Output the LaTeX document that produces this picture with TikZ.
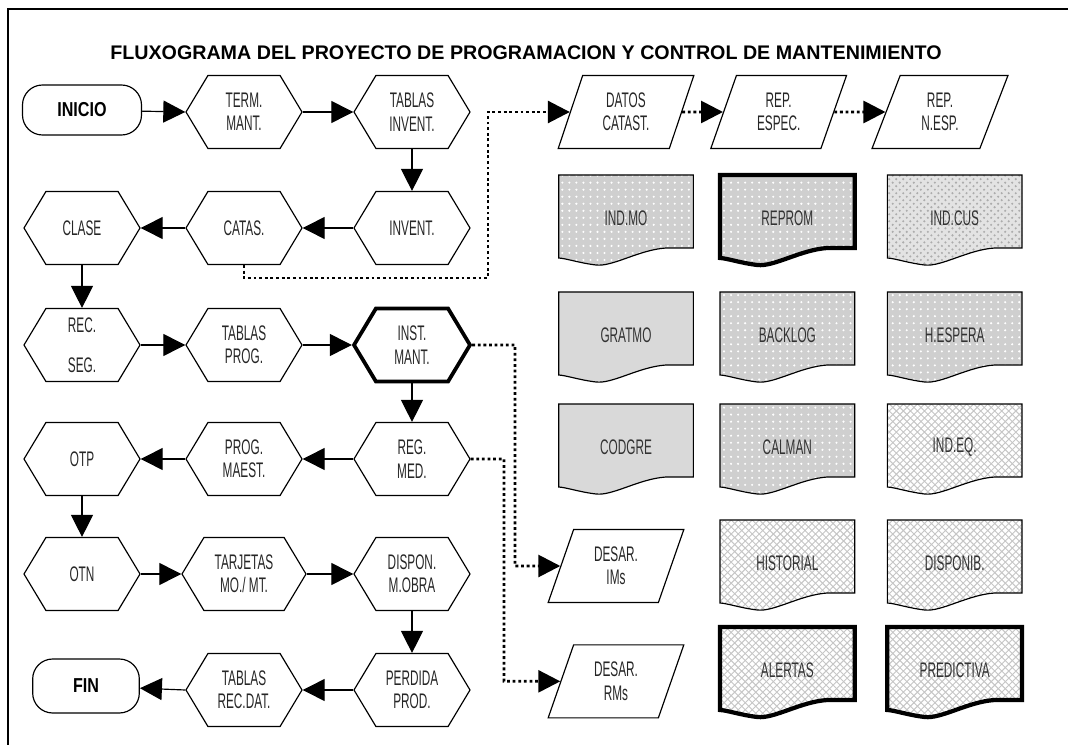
\documentclass[tikz,border=0pt]{standalone}
\usepackage{fontspec}
\setmainfont{Liberation Sans}
\newfontfamily\narrowfont[FakeStretch=0.56]{Liberation Sans}
\newfontfamily\boldnarrow[FakeStretch=0.8]{Liberation Sans}
\usepackage{tikz}
\usetikzlibrary{arrows.meta, positioning, shapes.geometric, shapes.symbols, patterns}

\tikzset{
  hexbox/.style={draw, signal, signal to=west and east, signal pointer angle=118,
    minimum width=1.74cm, minimum height=1.095cm, inner sep=0pt, align=center,
    line width=0.5pt, text=black!85, font=\narrowfont\fontsize{9}{10}\selectfont},
  termbox/.style={draw, rectangle, rounded corners=0.3cm, minimum width=1.785cm,
    minimum height=0.75cm, line width=0.5pt,
    font=\boldnarrow\bfseries\fontsize{8.6}{10}\selectfont},
  databox/.style={draw, trapezium, trapezium left angle=71, trapezium right angle=109,
    trapezium stretches=true, minimum width=2.04cm, minimum height=1.095cm,
    inner sep=0pt, align=center, line width=0.5pt, text=black!85,
    font=\narrowfont\fontsize{9}{10}\selectfont},
  doctext/.style={inner sep=1pt, text=black!80, font=\narrowfont\fontsize{9}{10}\selectfont},
  flowarrow/.style={line width=0.5pt, -{Triangle[length=0.33cm,width=0.33cm]}},
  dotarrow/.style={line width=1.2pt, dash pattern=on 1.2pt off 1.2pt,
    -{Triangle[length=0.33cm,width=0.33cm]}},
  docdots/.style={line width=0.5pt, preaction={fill=gray!38}, pattern=dots, pattern color=white},
  docchecks/.style={line width=0.5pt, preaction={fill=gray!22}, pattern=crosshatch dots, pattern color=gray!65},
  docsolid/.style={line width=0.5pt, fill=gray!30},
  docweave/.style={line width=0.5pt, preaction={fill=white}, pattern=crosshatch, pattern color=gray!45},
  docthick/.style={line width=1.8pt}
}

% report sheet: name, centre x, top y, look, text
\newcommand{\repdoc}[5]{%
  \begin{scope}[shift={(#2,#3)}]
    \draw[#4] (-1.01,0) -- (1.01,0) -- (1.01,-1.095) -- (0.6,-1.095)
      .. controls (0.2,-1.12) and (-0.2,-1.38) .. (-0.45,-1.35)
      .. controls (-0.7,-1.32) and (-0.9,-1.25) .. (-1.01,-1.245) -- cycle;
  \end{scope}
  \node[doctext] (#1) at (#2,#3-0.645) {#5};}

\begin{document}
\begin{tikzpicture}
  \useasboundingbox (0,0) rectangle (16.02,-11.175);
  % frame and title
  \draw[line width=0.6pt] (0.12,-11.175) -- (0.12,-0.135) -- (16.02,-0.135);
  \node[font=\bfseries\fontsize{8.4}{10}\selectfont] (title) at (7.89,-0.795)
    {FLUXOGRAMA DEL PROYECTO DE PROGRAMACION Y CONTROL DE MANTENIMIENTO};

  % main flow
  \node[termbox] (inicio) at (1.23,-1.65) {INICIO};
  \node[hexbox] (term) at (3.66,-1.68) {TERM.\\MANT.};
  \node[hexbox] (tabinv) at (6.18,-1.68) {TABLAS\\INVENT.};
  \node[hexbox] (invent) at (6.18,-3.42) {INVENT.};
  \node[hexbox] (catas) at (3.66,-3.42) {CATAS.};
  \node[hexbox] (clase) at (1.23,-3.42) {CLASE};
  \node[hexbox] (recseg) at (1.23,-5.175) {REC.\\[7pt]SEG.};
  \node[hexbox] (tabprog) at (3.66,-5.175) {TABLAS\\PROG.};
  \node[hexbox, line width=1.6pt] (instm) at (6.18,-5.175) {INST.\\MANT.};
  \node[hexbox] (regmed) at (6.18,-6.885) {REG.\\MED.};
  \node[hexbox] (progm) at (3.66,-6.885) {PROG.\\MAEST.};
  \node[hexbox] (otp) at (1.23,-6.885) {OTP};
  \node[hexbox] (otn) at (1.23,-8.61) {OTN};
  \node[hexbox, minimum width=1.86cm] (tarj) at (3.66,-8.61) {TARJETAS\\MO./ MT.};
  \node[hexbox] (dispon) at (6.18,-8.61) {DISPON.\\M.OBRA};
  \node[hexbox] (perdida) at (6.18,-10.35) {PERDIDA\\PROD.};
  \node[hexbox] (tabrec) at (3.66,-10.35) {TABLAS\\REC.DAT.};
  \node[termbox, minimum width=1.6cm, minimum height=0.81cm] (fin) at (1.29,-10.29) {FIN};

  \draw[flowarrow] (inicio) -- (term.west);
  \draw[flowarrow] (term.east) -- (tabinv.west);
  \draw[flowarrow] (tabinv.south) -- (invent.north);
  \draw[flowarrow] (invent.west) -- (catas.east);
  \draw[flowarrow] (catas.west) -- (clase.east);
  \draw[flowarrow] (clase.south) -- (recseg.north);
  \draw[flowarrow] (recseg.east) -- (tabprog.west);
  \draw[flowarrow] (tabprog.east) -- (instm.west);
  \draw[flowarrow] (instm.south) -- (regmed.north);
  \draw[flowarrow] (regmed.west) -- (progm.east);
  \draw[flowarrow] (progm.west) -- (otp.east);
  \draw[flowarrow] (otp.south) -- (otn.north);
  \draw[flowarrow] (otn.east) -- (tarj.west);
  \draw[flowarrow] (tarj.east) -- (dispon.west);
  \draw[flowarrow] (dispon.south) -- (perdida.north);
  \draw[flowarrow] (perdida.west) -- (tabrec.east);
  \draw[flowarrow] (tabrec.west) -- (fin);

  % data outputs
  \node[databox] (datos) at (9.39,-1.68) {DATOS\\CATAST.};
  \node[databox] (repesp) at (11.68,-1.68) {REP.\\ESPEC.};
  \node[databox] (repnesp) at (14.10,-1.68) {REP.\\N.ESP.};
  \node[databox] (desims) at (9.24,-8.49) {DESAR.\\IMs};
  \node[databox] (desrms) at (9.24,-10.22) {DESAR.\\RMs};

  \coordinate (catbend) at (7.32,-4.17);
  \coordinate (imbend) at (7.725,-8.49);
  \coordinate (rmbend) at (7.56,-10.22);
  \draw[dotarrow] (catas.south) |- (catbend) |- (datos.west);
  \draw[dotarrow] (datos.east) -- (repesp.west);
  \draw[dotarrow] (repesp.east) -- (repnesp.west);
  \draw[dotarrow] (instm.east) -| (imbend) -- (desims.west);
  \draw[dotarrow] (regmed.east) -| (rmbend) -- (desrms.west);

  % reports
  \repdoc{indmo}{9.39}{-2.625}{docdots}{IND.MO}
  \repdoc{reprom}{11.81}{-2.625}{docdots, docthick}{REPROM}
  \repdoc{indcus}{14.32}{-2.625}{docchecks}{IND.CUS}
  \repdoc{gratmo}{9.39}{-4.38}{docsolid}{GRATMO}
  \repdoc{backlog}{11.81}{-4.38}{docdots}{BACKLOG}
  \repdoc{hespera}{14.32}{-4.38}{docdots}{H.ESPERA}
  \repdoc{codgre}{9.39}{-6.06}{docsolid}{CODGRE}
  \repdoc{calman}{11.81}{-6.06}{docdots}{CALMAN}
  \repdoc{indeq}{14.32}{-6.06}{docweave}{IND.EQ.}
  \repdoc{historial}{11.81}{-7.80}{docweave}{HISTORIAL}
  \repdoc{disponib}{14.32}{-7.80}{docweave}{DISPONIB.}
  \repdoc{alertas}{11.81}{-9.405}{docweave, docthick}{ALERTAS}
  \repdoc{predictiva}{14.32}{-9.405}{docweave, docthick}{PREDICTIVA}
\end{tikzpicture}
\end{document}
